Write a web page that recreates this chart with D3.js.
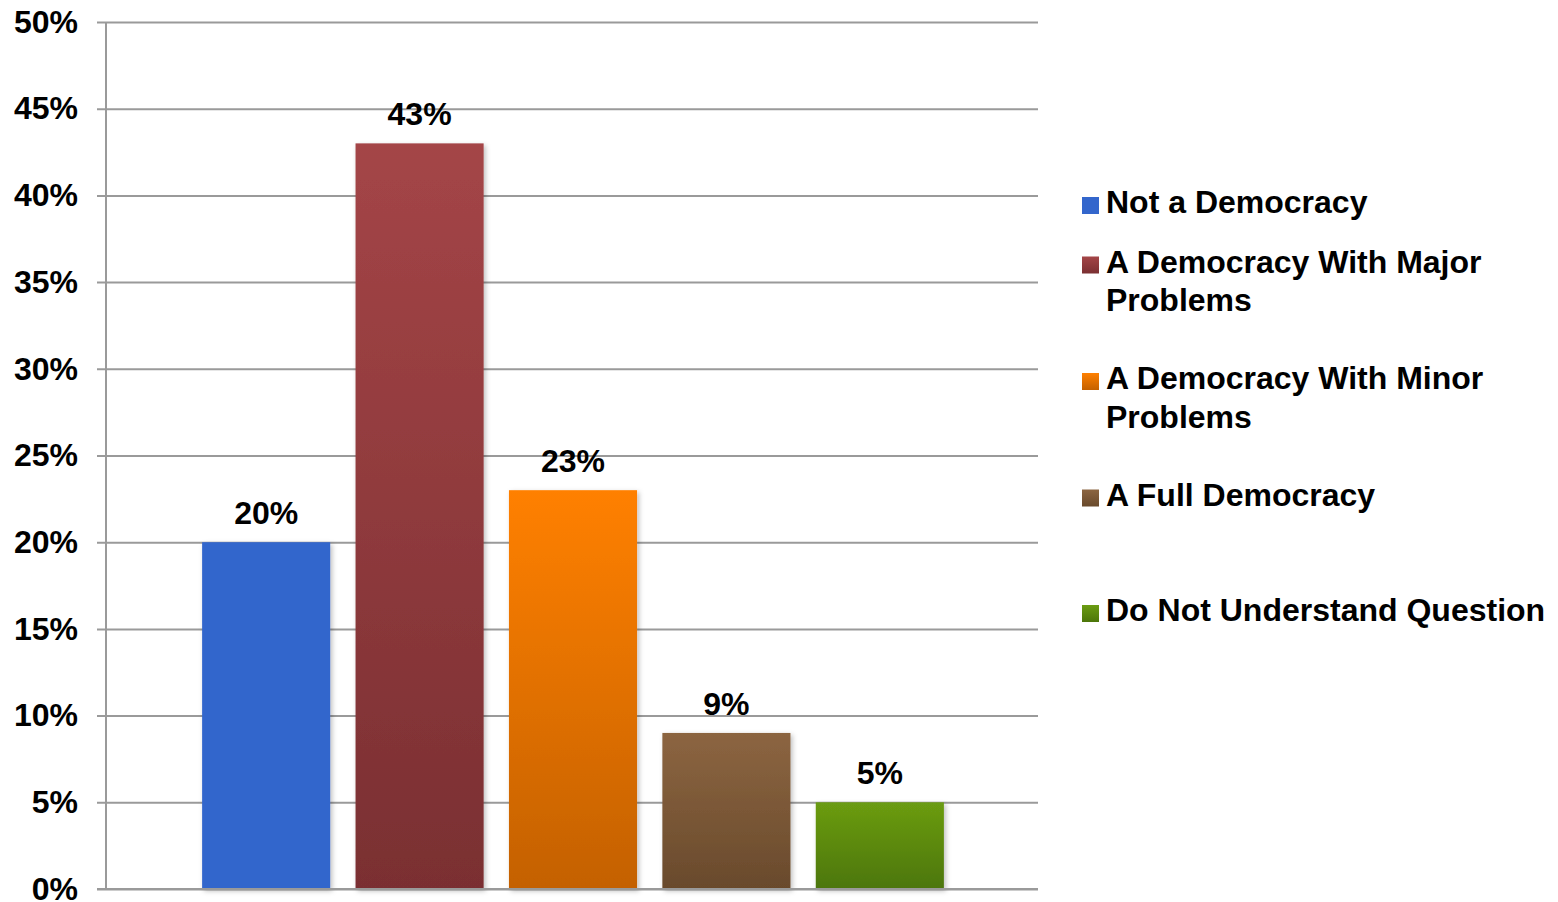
<!DOCTYPE html>
<html><head><meta charset="utf-8">
<script src="https://cdn.jsdelivr.net/npm/d3@7/dist/d3.min.js"></script>
<style>
html,body{margin:0;padding:0;background:#fff;}
svg{display:block;font-family:"Liberation Sans",Arial,sans-serif;font-weight:bold;}
</style></head><body>
<svg id="chart" width="1558" height="902"></svg>
<script>
const categories = ["Not a Democracy","A Democracy With Major Problems","A Democracy With Minor Problems","A Full Democracy","Do Not Understand Question"];
const values = [20, 43, 23, 9, 5];
const yTicks = [0,5,10,15,20,25,30,35,40,45,50];
const legendLines = [["Not a Democracy"],["A Democracy With Major","Problems"],["A Democracy With Minor","Problems"],["A Full Democracy"],["Do Not Understand Question"]];
const topColors = ["#3366CC","#A44547","#FF8000","#8C6541","#6B9C12"];
const bottomColors = ["#3366CC","#7A2F32","#C46100","#694A2C","#4C760A"];

(function(){
const svg = d3.select("#chart");
const pL = 106, pR = 1038, pT = 22, pB = 889;
const y = d3.scaleLinear().domain([0,50]).range([pB, pT]);
const x = d3.scaleBand().domain(categories).range([pL+1, pR+1]).paddingInner(0.165).paddingOuter(0.62);

const defs = svg.append("defs");
categories.forEach((c,i)=>{
  const g = defs.append("linearGradient").attr("id","g"+i).attr("x1",0).attr("y1",0).attr("x2",0).attr("y2",1);
  g.append("stop").attr("offset","0%").attr("stop-color",topColors[i]);
  g.append("stop").attr("offset","100%").attr("stop-color",bottomColors[i]);
});
const f = defs.append("filter").attr("id","shadow").attr("x","-10%").attr("y","-10%").attr("width","130%").attr("height","130%");
f.append("feDropShadow").attr("dx",2).attr("dy",2).attr("stdDeviation",2.5).attr("flood-color","#000").attr("flood-opacity",0.25);

const yAxis = d3.axisLeft(y).tickValues(yTicks).tickSize(-(pR-pL)).tickPadding(28).tickFormat(d=>d+"%");
const ga = svg.append("g").attr("transform",`translate(${pL},0)`).call(yAxis);
ga.select(".domain").remove();
ga.selectAll(".tick line").attr("stroke","#9a9a9a").attr("stroke-width",2).attr("x1",-9);
ga.selectAll(".tick text").attr("fill","#000").attr("font-size","32px").attr("font-weight","bold").attr("font-family","'Liberation Sans',Arial,sans-serif");
svg.append("line").attr("x1",pL).attr("x2",pL).attr("y1",pT).attr("y2",pB).attr("stroke","#9a9a9a").attr("stroke-width",2);

svg.selectAll("rect.bar").data(values).join("rect")
  .attr("class","bar")
  .attr("x",(d,i)=>x(categories[i]))
  .attr("width",x.bandwidth())
  .attr("y",d=>y(d))
  .attr("height",d=>y(0)-y(d))
  .attr("fill",(d,i)=>`url(#g${i})`)
  .attr("filter","url(#shadow)");

svg.append("line").attr("x1",pL-9).attr("x2",pR).attr("y1",y(0)).attr("y2",y(0)).attr("stroke","#9a9a9a").attr("stroke-width",2);

svg.selectAll("text.lbl").data(values).join("text")
  .attr("class","lbl")
  .attr("x",(d,i)=>x(categories[i])+x.bandwidth()/2)
  .attr("y",d=>y(d)-18)
  .attr("text-anchor","middle")
  .attr("font-size","32px")
  .text(d=>d+"%");

const legendBase = [213, 272.5, 389, 505.5, 621];
const lg = svg.append("g");
legendLines.forEach((lines,i)=>{
  const by = legendBase[i];
  lg.append("rect").attr("x",1082).attr("y",by-16).attr("width",17).attr("height",17).attr("fill",`url(#g${i})`);
  const t = lg.append("text").attr("x",1106).attr("y",by).attr("font-size","32px");
  lines.forEach((ln,j)=>{
    t.append("tspan").attr("x",1106).attr("y",by+j*38.5).text(ln);
  });
});
})();
</script>
</body></html>
